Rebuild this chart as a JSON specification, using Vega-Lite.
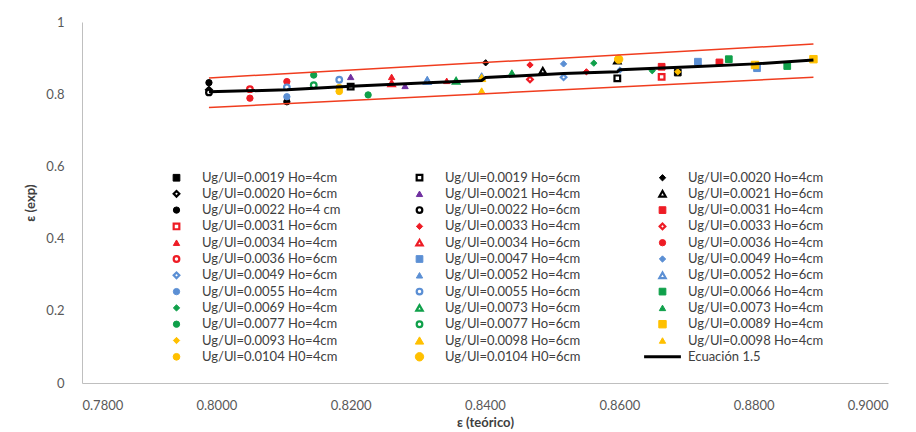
{
  "$schema": "https://vega.github.io/schema/vega-lite/v6.json",
  "autosize": {"type": "none"},
  "width": 806,
  "height": 361,
  "padding": {"left": 82, "top": 22, "right": 28, "bottom": 49},
  "background": "white",
  "config": {
    "view": {"stroke": null},
    "font": "Lato",
    "axis": {"domainColor": "#bfbfbf", "domainWidth": 1, "ticks": false, "grid": false, "labelOverlap": false, "labelColor": "#595959", "labelFont": "Lato", "labelFontSize": 13, "titleFont": "Lato", "titleFontSize": 13, "titleColor": "#404040", "titleFontWeight": "bold"}
  },
  "datasets": {
    "pts": [
      {"series": "Ug/Ul=0.0019 Ho=4cm", "x": 0.8687, "y": 0.860},
      {"series": "Ug/Ul=0.0019 Ho=6cm", "x": 0.8200, "y": 0.821},
      {"series": "Ug/Ul=0.0019 Ho=6cm", "x": 0.8597, "y": 0.844},
      {"series": "Ug/Ul=0.0020 Ho=4cm", "x": 0.8401, "y": 0.887},
      {"series": "Ug/Ul=0.0020 Ho=6cm", "x": 0.7989, "y": 0.812},
      {"series": "Ug/Ul=0.0021 Ho=4cm", "x": 0.8200, "y": 0.848},
      {"series": "Ug/Ul=0.0021 Ho=4cm", "x": 0.8281, "y": 0.823},
      {"series": "Ug/Ul=0.0021 Ho=6cm", "x": 0.8486, "y": 0.865},
      {"series": "Ug/Ul=0.0021 Ho=6cm", "x": 0.8597, "y": 0.893},
      {"series": "Ug/Ul=0.0022 Ho=4 cm", "x": 0.7989, "y": 0.832},
      {"series": "Ug/Ul=0.0022 Ho=4 cm", "x": 0.8105, "y": 0.779},
      {"series": "Ug/Ul=0.0022 Ho=6cm", "x": 0.7989, "y": 0.805},
      {"series": "Ug/Ul=0.0031 Ho=4cm", "x": 0.8663, "y": 0.876},
      {"series": "Ug/Ul=0.0031 Ho=4cm", "x": 0.8749, "y": 0.888},
      {"series": "Ug/Ul=0.0031 Ho=6cm", "x": 0.8663, "y": 0.848},
      {"series": "Ug/Ul=0.0033 Ho=4cm", "x": 0.8467, "y": 0.881},
      {"series": "Ug/Ul=0.0033 Ho=4cm", "x": 0.8551, "y": 0.862},
      {"series": "Ug/Ul=0.0033 Ho=6cm", "x": 0.8467, "y": 0.841},
      {"series": "Ug/Ul=0.0034 Ho=4cm", "x": 0.8261, "y": 0.848},
      {"series": "Ug/Ul=0.0034 Ho=4cm", "x": 0.8343, "y": 0.837},
      {"series": "Ug/Ul=0.0034 Ho=6cm", "x": 0.8261, "y": 0.830},
      {"series": "Ug/Ul=0.0036 Ho=4cm", "x": 0.8050, "y": 0.789},
      {"series": "Ug/Ul=0.0036 Ho=4cm", "x": 0.8105, "y": 0.835},
      {"series": "Ug/Ul=0.0036 Ho=6cm", "x": 0.8050, "y": 0.814},
      {"series": "Ug/Ul=0.0047 Ho=4cm", "x": 0.8717, "y": 0.890},
      {"series": "Ug/Ul=0.0047 Ho=4cm", "x": 0.8805, "y": 0.872},
      {"series": "Ug/Ul=0.0049 Ho=4cm", "x": 0.8517, "y": 0.884},
      {"series": "Ug/Ul=0.0049 Ho=4cm", "x": 0.8601, "y": 0.867},
      {"series": "Ug/Ul=0.0049 Ho=6cm", "x": 0.8517, "y": 0.847},
      {"series": "Ug/Ul=0.0052 Ho=4cm", "x": 0.8395, "y": 0.852},
      {"series": "Ug/Ul=0.0052 Ho=4cm", "x": 0.8314, "y": 0.842},
      {"series": "Ug/Ul=0.0052 Ho=6cm", "x": 0.8314, "y": 0.836},
      {"series": "Ug/Ul=0.0055 Ho=4cm", "x": 0.8105, "y": 0.793},
      {"series": "Ug/Ul=0.0055 Ho=6cm", "x": 0.8105, "y": 0.819},
      {"series": "Ug/Ul=0.0055 Ho=6cm", "x": 0.8183, "y": 0.840},
      {"series": "Ug/Ul=0.0066 Ho=4cm", "x": 0.8763, "y": 0.897},
      {"series": "Ug/Ul=0.0066 Ho=4cm", "x": 0.8850, "y": 0.878},
      {"series": "Ug/Ul=0.0069 Ho=4cm", "x": 0.8562, "y": 0.886},
      {"series": "Ug/Ul=0.0069 Ho=4cm", "x": 0.8649, "y": 0.865},
      {"series": "Ug/Ul=0.0073 Ho=6cm", "x": 0.8357, "y": 0.837},
      {"series": "Ug/Ul=0.0073 Ho=4cm", "x": 0.8440, "y": 0.860},
      {"series": "Ug/Ul=0.0077 Ho=4cm", "x": 0.8145, "y": 0.853},
      {"series": "Ug/Ul=0.0077 Ho=4cm", "x": 0.8226, "y": 0.798},
      {"series": "Ug/Ul=0.0077 Ho=6cm", "x": 0.8145, "y": 0.825},
      {"series": "Ug/Ul=0.0089 Ho=4cm", "x": 0.8802, "y": 0.881},
      {"series": "Ug/Ul=0.0089 Ho=4cm", "x": 0.8889, "y": 0.897},
      {"series": "Ug/Ul=0.0093 Ho=4cm", "x": 0.8687, "y": 0.862},
      {"series": "Ug/Ul=0.0098 Ho=6cm", "x": 0.8395, "y": 0.845},
      {"series": "Ug/Ul=0.0098 Ho=4cm", "x": 0.8395, "y": 0.810},
      {"series": "Ug/Ul=0.0104 H0=4cm", "x": 0.8183, "y": 0.818},
      {"series": "Ug/Ul=0.0104 H0=4cm", "x": 0.8183, "y": 0.808},
      {"series": "Ug/Ul=0.0104 H0=6cm", "x": 0.8599, "y": 0.897}
    ],
    "eq": [
      {"x": 0.7989, "y": 0.807},
      {"x": 0.8105, "y": 0.812},
      {"x": 0.8200, "y": 0.822},
      {"x": 0.8314, "y": 0.832},
      {"x": 0.8395, "y": 0.838},
      {"x": 0.8401, "y": 0.846},
      {"x": 0.8517, "y": 0.857},
      {"x": 0.8597, "y": 0.862},
      {"x": 0.8601, "y": 0.868},
      {"x": 0.8717, "y": 0.877},
      {"x": 0.8802, "y": 0.884},
      {"x": 0.8889, "y": 0.895}
    ],
    "lims": [
      {"band": "sup", "x": 0.7989, "y": 0.845},
      {"band": "sup", "x": 0.8889, "y": 0.939},
      {"band": "inf", "x": 0.7989, "y": 0.763},
      {"band": "inf", "x": 0.8889, "y": 0.847}
    ]
  },
  "layer": [
    {
      "data": {"name": "pts"},
      "mark": {"type": "point", "filled": true, "opacity": 1},
      "encoding": {
        "x": {"field": "x", "type": "quantitative", "scale": {"domain": [0.78, 0.90], "nice": false, "zero": false},
          "axis": {"values": [0.78, 0.80, 0.82, 0.84, 0.86, 0.88, 0.90], "format": ".4f", "title": "ε (teórico)", "labelPadding": 16, "titlePadding": 4}},
        "y": {"field": "y", "type": "quantitative", "scale": {"domain": [0, 1], "nice": false},
          "axis": {"values": [0, 0.1, 0.2, 0.3, 0.4, 0.5, 0.6, 0.7, 0.8, 0.9, 1], "format": "~g", "title": "ε (exp)", "labelPadding": 18, "titlePadding": 8}},
        "fill": {"field": "series", "type": "nominal", "title": null,
          "scale": {"domain": ["Ug/Ul=0.0019 Ho=4cm", "Ug/Ul=0.0019 Ho=6cm", "Ug/Ul=0.0020 Ho=4cm", "Ug/Ul=0.0020 Ho=6cm", "Ug/Ul=0.0021 Ho=4cm", "Ug/Ul=0.0021 Ho=6cm", "Ug/Ul=0.0022 Ho=4 cm", "Ug/Ul=0.0022 Ho=6cm", "Ug/Ul=0.0031 Ho=4cm", "Ug/Ul=0.0031 Ho=6cm", "Ug/Ul=0.0033 Ho=4cm", "Ug/Ul=0.0033 Ho=6cm", "Ug/Ul=0.0034 Ho=4cm", "Ug/Ul=0.0034 Ho=6cm", "Ug/Ul=0.0036 Ho=4cm", "Ug/Ul=0.0036 Ho=6cm", "Ug/Ul=0.0047 Ho=4cm", "Ug/Ul=0.0049 Ho=4cm", "Ug/Ul=0.0049 Ho=6cm", "Ug/Ul=0.0052 Ho=4cm", "Ug/Ul=0.0052 Ho=6cm", "Ug/Ul=0.0055 Ho=4cm", "Ug/Ul=0.0055 Ho=6cm", "Ug/Ul=0.0066 Ho=4cm", "Ug/Ul=0.0069 Ho=4cm", "Ug/Ul=0.0073 Ho=6cm", "Ug/Ul=0.0073 Ho=4cm", "Ug/Ul=0.0077 Ho=4cm", "Ug/Ul=0.0077 Ho=6cm", "Ug/Ul=0.0089 Ho=4cm", "Ug/Ul=0.0093 Ho=4cm", "Ug/Ul=0.0098 Ho=6cm", "Ug/Ul=0.0098 Ho=4cm", "Ug/Ul=0.0104 H0=4cm", "Ug/Ul=0.0104 H0=6cm", "Ecuación 1.5"],
            "range": ["#000000", "#ffffff", "#000000", "#ffffff", "#7030a0", "#ffffff", "#000000", "#ffffff", "#ee1c25", "#ffffff", "#ee1c25", "#ffffff", "#ee1c25", "#ffffff", "#ee1c25", "#ffffff", "#5b8fd4", "#5b8fd4", "#ffffff", "#5b8fd4", "#ffffff", "#5b8fd4", "#ffffff", "#0fa04a", "#0fa04a", "#ffffff", "#0fa04a", "#0fa04a", "#ffffff", "#ffc000", "#ffc000", "#ffc000", "#ffc000", "#ffc000", "#ffc000", "#000000"]},
          "legend": {"orient": "none", "legendX": 88, "legendY": 149, "columns": 3, "direction": "horizontal", "symbolLimit": 0, "columnPadding": 54, "rowPadding": 1.3, "gridAlign": "all", "labelFont": "Lato", "labelFontSize": 13, "labelColor": "#404040", "labelOffset": 19, "labelLimit": 200, "symbolType": "circle"}},
        "stroke": {"field": "series", "type": "nominal", "title": null,
          "scale": {"domain": ["Ug/Ul=0.0019 Ho=4cm", "Ug/Ul=0.0019 Ho=6cm", "Ug/Ul=0.0020 Ho=4cm", "Ug/Ul=0.0020 Ho=6cm", "Ug/Ul=0.0021 Ho=4cm", "Ug/Ul=0.0021 Ho=6cm", "Ug/Ul=0.0022 Ho=4 cm", "Ug/Ul=0.0022 Ho=6cm", "Ug/Ul=0.0031 Ho=4cm", "Ug/Ul=0.0031 Ho=6cm", "Ug/Ul=0.0033 Ho=4cm", "Ug/Ul=0.0033 Ho=6cm", "Ug/Ul=0.0034 Ho=4cm", "Ug/Ul=0.0034 Ho=6cm", "Ug/Ul=0.0036 Ho=4cm", "Ug/Ul=0.0036 Ho=6cm", "Ug/Ul=0.0047 Ho=4cm", "Ug/Ul=0.0049 Ho=4cm", "Ug/Ul=0.0049 Ho=6cm", "Ug/Ul=0.0052 Ho=4cm", "Ug/Ul=0.0052 Ho=6cm", "Ug/Ul=0.0055 Ho=4cm", "Ug/Ul=0.0055 Ho=6cm", "Ug/Ul=0.0066 Ho=4cm", "Ug/Ul=0.0069 Ho=4cm", "Ug/Ul=0.0073 Ho=6cm", "Ug/Ul=0.0073 Ho=4cm", "Ug/Ul=0.0077 Ho=4cm", "Ug/Ul=0.0077 Ho=6cm", "Ug/Ul=0.0089 Ho=4cm", "Ug/Ul=0.0093 Ho=4cm", "Ug/Ul=0.0098 Ho=6cm", "Ug/Ul=0.0098 Ho=4cm", "Ug/Ul=0.0104 H0=4cm", "Ug/Ul=0.0104 H0=6cm", "Ecuación 1.5"],
            "range": ["#000000", "#000000", "#000000", "#000000", "#7030a0", "#000000", "#000000", "#000000", "#ee1c25", "#ee1c25", "#ee1c25", "#ee1c25", "#ee1c25", "#ee1c25", "#ee1c25", "#ee1c25", "#5b8fd4", "#5b8fd4", "#5b8fd4", "#5b8fd4", "#5b8fd4", "#5b8fd4", "#5b8fd4", "#0fa04a", "#0fa04a", "#0fa04a", "#0fa04a", "#0fa04a", "#0fa04a", "#ffc000", "#ffc000", "#ffc000", "#ffc000", "#ffc000", "#ffc000", "#000000"]}},
        "shape": {"field": "series", "type": "nominal", "title": null,
          "scale": {"domain": ["Ug/Ul=0.0019 Ho=4cm", "Ug/Ul=0.0019 Ho=6cm", "Ug/Ul=0.0020 Ho=4cm", "Ug/Ul=0.0020 Ho=6cm", "Ug/Ul=0.0021 Ho=4cm", "Ug/Ul=0.0021 Ho=6cm", "Ug/Ul=0.0022 Ho=4 cm", "Ug/Ul=0.0022 Ho=6cm", "Ug/Ul=0.0031 Ho=4cm", "Ug/Ul=0.0031 Ho=6cm", "Ug/Ul=0.0033 Ho=4cm", "Ug/Ul=0.0033 Ho=6cm", "Ug/Ul=0.0034 Ho=4cm", "Ug/Ul=0.0034 Ho=6cm", "Ug/Ul=0.0036 Ho=4cm", "Ug/Ul=0.0036 Ho=6cm", "Ug/Ul=0.0047 Ho=4cm", "Ug/Ul=0.0049 Ho=4cm", "Ug/Ul=0.0049 Ho=6cm", "Ug/Ul=0.0052 Ho=4cm", "Ug/Ul=0.0052 Ho=6cm", "Ug/Ul=0.0055 Ho=4cm", "Ug/Ul=0.0055 Ho=6cm", "Ug/Ul=0.0066 Ho=4cm", "Ug/Ul=0.0069 Ho=4cm", "Ug/Ul=0.0073 Ho=6cm", "Ug/Ul=0.0073 Ho=4cm", "Ug/Ul=0.0077 Ho=4cm", "Ug/Ul=0.0077 Ho=6cm", "Ug/Ul=0.0089 Ho=4cm", "Ug/Ul=0.0093 Ho=4cm", "Ug/Ul=0.0098 Ho=6cm", "Ug/Ul=0.0098 Ho=4cm", "Ug/Ul=0.0104 H0=4cm", "Ug/Ul=0.0104 H0=6cm", "Ecuación 1.5"],
            "range": ["square", "square", "diamond", "diamond", "triangle-up", "triangle-up", "circle", "circle", "square", "square", "diamond", "diamond", "triangle-up", "triangle-up", "circle", "circle", "square", "diamond", "diamond", "triangle-up", "triangle-up", "circle", "circle", "square", "diamond", "triangle-up", "triangle-up", "circle", "circle", "square", "diamond", "triangle-up", "triangle-up", "circle", "circle", "M-4.6,0L4.6,0"]}},
        "size": {"field": "series", "type": "nominal", "title": null,
          "scale": {"type": "ordinal", "domain": ["Ug/Ul=0.0019 Ho=4cm", "Ug/Ul=0.0019 Ho=6cm", "Ug/Ul=0.0020 Ho=4cm", "Ug/Ul=0.0020 Ho=6cm", "Ug/Ul=0.0021 Ho=4cm", "Ug/Ul=0.0021 Ho=6cm", "Ug/Ul=0.0022 Ho=4 cm", "Ug/Ul=0.0022 Ho=6cm", "Ug/Ul=0.0031 Ho=4cm", "Ug/Ul=0.0031 Ho=6cm", "Ug/Ul=0.0033 Ho=4cm", "Ug/Ul=0.0033 Ho=6cm", "Ug/Ul=0.0034 Ho=4cm", "Ug/Ul=0.0034 Ho=6cm", "Ug/Ul=0.0036 Ho=4cm", "Ug/Ul=0.0036 Ho=6cm", "Ug/Ul=0.0047 Ho=4cm", "Ug/Ul=0.0049 Ho=4cm", "Ug/Ul=0.0049 Ho=6cm", "Ug/Ul=0.0052 Ho=4cm", "Ug/Ul=0.0052 Ho=6cm", "Ug/Ul=0.0055 Ho=4cm", "Ug/Ul=0.0055 Ho=6cm", "Ug/Ul=0.0066 Ho=4cm", "Ug/Ul=0.0069 Ho=4cm", "Ug/Ul=0.0073 Ho=6cm", "Ug/Ul=0.0073 Ho=4cm", "Ug/Ul=0.0077 Ho=4cm", "Ug/Ul=0.0077 Ho=6cm", "Ug/Ul=0.0089 Ho=4cm", "Ug/Ul=0.0093 Ho=4cm", "Ug/Ul=0.0098 Ho=6cm", "Ug/Ul=0.0098 Ho=4cm", "Ug/Ul=0.0104 H0=4cm", "Ug/Ul=0.0104 H0=6cm", "Ecuación 1.5"],
            "range": [45, 32, 40, 32, 40, 40, 40, 32, 45, 32, 40, 32, 40, 40, 40, 32, 45, 40, 32, 40, 40, 40, 32, 45, 40, 40, 40, 40, 32, 55, 40, 70, 40, 45, 70, 64]}},
        "strokeWidth": {"field": "series", "type": "nominal", "title": null,
          "scale": {"type": "ordinal", "domain": ["Ug/Ul=0.0019 Ho=4cm", "Ug/Ul=0.0019 Ho=6cm", "Ug/Ul=0.0020 Ho=4cm", "Ug/Ul=0.0020 Ho=6cm", "Ug/Ul=0.0021 Ho=4cm", "Ug/Ul=0.0021 Ho=6cm", "Ug/Ul=0.0022 Ho=4 cm", "Ug/Ul=0.0022 Ho=6cm", "Ug/Ul=0.0031 Ho=4cm", "Ug/Ul=0.0031 Ho=6cm", "Ug/Ul=0.0033 Ho=4cm", "Ug/Ul=0.0033 Ho=6cm", "Ug/Ul=0.0034 Ho=4cm", "Ug/Ul=0.0034 Ho=6cm", "Ug/Ul=0.0036 Ho=4cm", "Ug/Ul=0.0036 Ho=6cm", "Ug/Ul=0.0047 Ho=4cm", "Ug/Ul=0.0049 Ho=4cm", "Ug/Ul=0.0049 Ho=6cm", "Ug/Ul=0.0052 Ho=4cm", "Ug/Ul=0.0052 Ho=6cm", "Ug/Ul=0.0055 Ho=4cm", "Ug/Ul=0.0055 Ho=6cm", "Ug/Ul=0.0066 Ho=4cm", "Ug/Ul=0.0069 Ho=4cm", "Ug/Ul=0.0073 Ho=6cm", "Ug/Ul=0.0073 Ho=4cm", "Ug/Ul=0.0077 Ho=4cm", "Ug/Ul=0.0077 Ho=6cm", "Ug/Ul=0.0089 Ho=4cm", "Ug/Ul=0.0093 Ho=4cm", "Ug/Ul=0.0098 Ho=6cm", "Ug/Ul=0.0098 Ho=4cm", "Ug/Ul=0.0104 H0=4cm", "Ug/Ul=0.0104 H0=6cm", "Ecuación 1.5"],
            "range": [1, 2.2, 1, 2.2, 1, 2.2, 1, 2.2, 1, 2.2, 1, 2.2, 1, 2.2, 1, 2.2, 1, 1, 2.2, 1, 2.2, 1, 2.2, 1, 1, 2.2, 1, 1, 2.2, 1, 1, 1, 1, 1, 1, 3]}}
      }
    },
    {
      "data": {"name": "eq"},
      "mark": {"type": "line", "color": "#000000", "strokeWidth": 3},
      "encoding": {
        "x": {"field": "x", "type": "quantitative"},
        "y": {"field": "y", "type": "quantitative"}
      }
    },
    {
      "data": {"name": "lims"},
      "mark": {"type": "line", "color": "#f03c1e", "strokeWidth": 1.5},
      "encoding": {
        "x": {"field": "x", "type": "quantitative"},
        "y": {"field": "y", "type": "quantitative"},
        "detail": {"field": "band", "type": "nominal"}
      }
    }
  ]
}
